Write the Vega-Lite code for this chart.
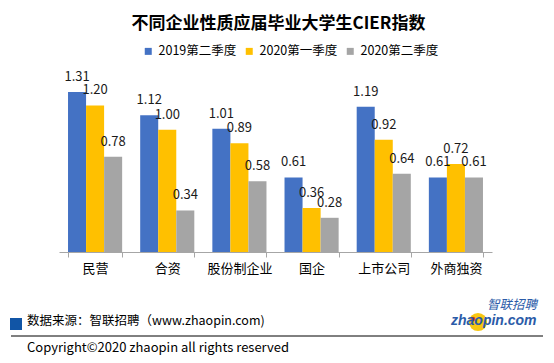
{
  "$schema": "https://vega.github.io/schema/vega-lite/v6.json",
  "width": 433,
  "height": 171,
  "autosize": {"type": "none"},
  "padding": {"left": 59, "top": 81, "right": 62, "bottom": 111},
  "background": "white",
  "config": {"view": {"stroke": null}, "font": "Noto Sans CJK SC"},
  "title": {"text": "不同企业性质应届毕业大学生CIER指数", "fontSize": 17, "fontWeight": "bold", "color": "#000000", "anchor": "middle", "offset": 12, "dx": 3},
  "datasets": {
    "bars": [
      {"cat": "民营", "series": "2019第二季度", "value": 1.31},
      {"cat": "民营", "series": "2020第一季度", "value": 1.20},
      {"cat": "民营", "series": "2020第二季度", "value": 0.78},
      {"cat": "合资", "series": "2019第二季度", "value": 1.12},
      {"cat": "合资", "series": "2020第一季度", "value": 1.00},
      {"cat": "合资", "series": "2020第二季度", "value": 0.34},
      {"cat": "股份制企业", "series": "2019第二季度", "value": 1.01},
      {"cat": "股份制企业", "series": "2020第一季度", "value": 0.89},
      {"cat": "股份制企业", "series": "2020第二季度", "value": 0.58},
      {"cat": "国企", "series": "2019第二季度", "value": 0.61},
      {"cat": "国企", "series": "2020第一季度", "value": 0.36},
      {"cat": "国企", "series": "2020第二季度", "value": 0.28},
      {"cat": "上市公司", "series": "2019第二季度", "value": 1.19},
      {"cat": "上市公司", "series": "2020第一季度", "value": 0.92},
      {"cat": "上市公司", "series": "2020第二季度", "value": 0.64},
      {"cat": "外商独资", "series": "2019第二季度", "value": 0.61},
      {"cat": "外商独资", "series": "2020第一季度", "value": 0.72},
      {"cat": "外商独资", "series": "2020第二季度", "value": 0.61}
    ],
    "footer": [
      {"id": "square", "x": 10, "x2": 22, "y": 318, "y2": 330},
      {"id": "line", "x": 11, "x2": 543, "y": 336},
      {"id": "circle", "x": 478, "y": 322},
      {"id": "dot", "x": 473, "y": 319},
      {"id": "source", "x": 27, "y": 321, "label": "数据来源：智联招聘（www.zhaopin.com)"},
      {"id": "copyright", "x": 27, "y": 348, "label": "Copyright©2020 zhaopin all rights reserved"},
      {"id": "logo1", "x": 487, "y": 305, "label": "智联招聘"},
      {"id": "logo2", "x": 451, "y": 321, "label": "zhaopin.com"}
    ]
  },
  "layer": [
    {
      "data": {"name": "bars"},
      "encoding": {
        "x": {"field": "cat", "type": "nominal", "sort": ["民营", "合资", "股份制企业", "国企", "上市公司", "外商独资"],
          "scale": {"paddingInner": 0.25, "paddingOuter": 0.125},
          "axis": {"title": null, "labelAngle": 0, "labelFontSize": 13, "labelColor": "#000000", "domainColor": "#A6A6A6", "tickColor": "#A6A6A6", "tickBand": "extent", "tickSize": 5, "labelPadding": 5}},
        "xOffset": {"field": "series", "type": "nominal", "sort": ["2019第二季度", "2020第一季度", "2020第二季度"], "scale": {"paddingInner": 0, "paddingOuter": 0}},
        "y": {"field": "value", "type": "quantitative", "scale": {"domain": [0, 1.4], "nice": false}, "axis": null}
      },
      "layer": [
        {
          "mark": {"type": "bar"},
          "encoding": {
            "color": {"field": "series", "type": "nominal",
              "scale": {"domain": ["2019第二季度", "2020第一季度", "2020第二季度"], "range": ["#4472C4", "#FFC000", "#A5A5A5"]},
              "legend": {"title": null, "orient": "none", "legendX": 83, "legendY": -36, "direction": "horizontal", "symbolType": "square", "symbolSize": 49, "symbolStrokeWidth": 0, "labelFontSize": 12.5, "labelColor": "#000000", "labelOffset": 4, "columnPadding": 6}}
          }
        },
        {
          "mark": {"type": "text", "fontSize": 13, "color": "#1a1a1a", "baseline": "alphabetic", "dy": -11},
          "encoding": {"text": {"field": "value", "type": "quantitative", "format": ".2f"}}
        }
      ]
    },
    {
      "data": {"name": "footer"},
      "encoding": {
        "x": {"field": "x", "type": "quantitative", "scale": {"domain": [0, 554], "range": [-59, 495], "nice": false, "zero": false}, "axis": null},
        "y": {"field": "y", "type": "quantitative", "scale": {"domain": [0, 363], "range": [-81, 282], "nice": false, "zero": false}, "axis": null}
      },
      "layer": [
        {"transform": [{"filter": "datum.id === 'square'"}], "mark": {"type": "rect", "color": "#1155A6"}, "encoding": {"x2": {"field": "x2"}, "y2": {"field": "y2"}}},
        {"transform": [{"filter": "datum.id === 'line'"}], "mark": {"type": "rule", "color": "#000000", "strokeWidth": 1}, "encoding": {"x2": {"field": "x2"}}},
        {"transform": [{"filter": "datum.id === 'circle'"}], "mark": {"type": "circle", "color": "#F8C712", "opacity": 1, "size": 330}, "encoding": {}},
        {"transform": [{"filter": "datum.id === 'dot'"}], "mark": {"type": "circle", "color": "#E3342A", "opacity": 1, "size": 22}, "encoding": {}},
        {"transform": [{"filter": "datum.id === 'source'"}], "mark": {"type": "text", "align": "left", "baseline": "middle", "fontSize": 12.5, "color": "#000000"}, "encoding": {"text": {"field": "label"}}},
        {"transform": [{"filter": "datum.id === 'copyright'"}], "mark": {"type": "text", "align": "left", "baseline": "middle", "fontSize": 13, "color": "#000000"}, "encoding": {"text": {"field": "label"}}},
        {"transform": [{"filter": "datum.id === 'logo1'"}], "mark": {"type": "text", "align": "left", "baseline": "middle", "fontSize": 12.5, "fontStyle": "italic", "color": "#2B5BA8"}, "encoding": {"text": {"field": "label"}}},
        {"transform": [{"filter": "datum.id === 'logo2'"}], "mark": {"type": "text", "align": "left", "baseline": "middle", "fontSize": 14, "fontWeight": "bold", "fontStyle": "italic", "font": "Liberation Sans", "color": "#2B5BA8"}, "encoding": {"text": {"field": "label"}}}
      ]
    }
  ],
  "resolve": {"scale": {"x": "independent", "y": "independent"}}
}
